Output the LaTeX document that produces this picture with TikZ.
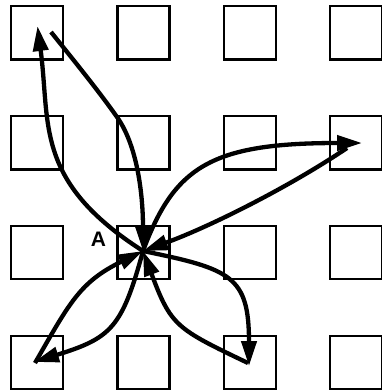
\documentclass[tikz,border=0pt]{standalone}
\usepackage{fontspec}
\setmainfont{Liberation Sans}
\usetikzlibrary{arrows.meta}
\begin{document}
\begin{tikzpicture}[x=1pt,y=-1pt,
  cell/.style={draw, line width=2.2pt, minimum width=52pt, minimum height=53.5pt, inner sep=0pt},
  flow/.style={line width=4.3pt, -{Triangle[length=25pt,width=15pt]}},
  tag/.style={font=\bfseries\fontsize{21}{21}\selectfont, inner sep=0pt}]
\useasboundingbox (0,0) rectangle (382,392);

% 4x4 grid of cells
\foreach \r in {1,...,4}
  \foreach \c in {1,...,4}
    \node[cell] (s\r\c) at ({37+106.4*(\c-1)}, {32.8+109.9*(\r-1)}) {};

\node[tag] (lblA) at (98.5,239.5) {A};

% hub inside cell A and the ends of the connectors
\coordinate (hub)   at (143,251);
\coordinate (tlIn)  at (37.5,26);
\coordinate (tlOut) at (51,32);
\coordinate (tlBend) at (117,117);
\coordinate (rIn)   at (362,143);
\coordinate (rOut)  at (347,148);
\coordinate (brIn)  at (249,366);
\coordinate (brOut) at (248,363);
\coordinate (blIn)  at (34,362);
\coordinate (blOut) at (35,363);

% outgoing
\draw[flow] (hub) .. controls (34,181) and (50.5,125) .. (tlIn);
\draw[flow] (hub) .. controls (174.5,166) and (212,143) .. (rIn);
\draw[flow] (hub) .. controls (231,269) and (249,276) .. (brIn);
\draw[flow] (hub) .. controls (122,328) and (111,338) .. (blIn);

% incoming
\draw[flow] (tlOut) .. controls (80,68) and (100,93) .. (tlBend)
            .. controls (139,148) and (143,201) .. (hub);
\draw[flow] (rOut) .. controls (288.9,187.2) and (208.8,227.2) .. (hub);
\draw[flow] (brOut) .. controls (176,328.6) and (171,326) .. (hub);
\draw[flow] (blOut) .. controls (70,302) and (80,282) .. (hub);
\end{tikzpicture}
\end{document}
